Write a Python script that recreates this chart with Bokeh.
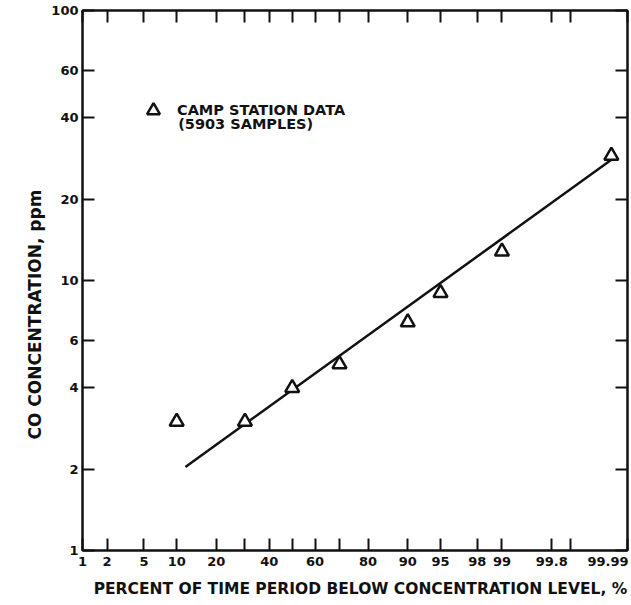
from statistics import NormalDist
from bokeh.plotting import figure
from bokeh.models import (Range1d, FixedTicker, CustomJSTickFormatter, LinearAxis, LogAxis,
                          Label, Legend, LegendItem, ColumnDataSource, Title)
from bokeh.embed import file_html
from bokeh.resources import INLINE

# ---- data ----
pct = [10, 30, 50, 70, 90, 95, 99, 99.98]
ppm = [3.0, 3.0, 4.0, 4.9, 7.0, 9.0, 12.8, 29.0]
fit_pct = [11.8, 99.98]
fit_ppm = [2.04, 28.0]
x_tick_pct = [1, 2, 5, 10, 20, 30, 40, 50, 60, 70, 80, 90, 95, 98, 99, 99.8, 99.9, 99.99]
x_tick_labels = ["1", "2", "5", "10", "20", "", "40", "", "60", "", "80", "90", "95", "98", "99", "99.8", "", ""]
x_last_label = "99.99"
y_ticks = [1, 2, 4, 6, 10, 20, 40, 60, 100]
legend_line1 = "CAMP STATION DATA"
legend_line2 = "(5903 SAMPLES)"
x_title = "PERCENT OF TIME PERIOD BELOW CONCENTRATION LEVEL, %"
y_title = "CO CONCENTRATION, ppm"

nd = NormalDist()
def probit(p):
    return nd.inv_cdf(p / 100.0)

FONT = "DejaVu Sans"
INK = "#111111"

xz = [probit(v) for v in pct]
fit_z = [probit(v) for v in fit_pct]
tick_z = [probit(v) for v in x_tick_pct]
x0, x1 = probit(1), probit(99.99)

p = figure(width=630, height=605, output_backend="svg", toolbar_location=None,
           x_range=Range1d(x0, x1), y_range=Range1d(1, 100),
           y_axis_type="log", x_axis_type="linear",
           min_border_left=82, min_border_right=3, min_border_top=10, min_border_bottom=55)
p.xgrid.visible = False
p.ygrid.visible = False
p.outline_line_color = INK
p.outline_line_width = 2
p.background_fill_color = "white"
p.border_fill_color = "white"

fmt_bottom = CustomJSTickFormatter(args=dict(tz=tick_z, lab=x_tick_labels), code="""
    for (let i = 0; i < tz.length; i++) { if (Math.abs(tz[i] - tick) < 1e-6) return lab[i]; }
    return "";
""")
fmt_empty = CustomJSTickFormatter(code='return "";')

xa = p.xaxis[0]
xa.ticker = FixedTicker(ticks=tick_z)
xa.formatter = fmt_bottom
ya = p.yaxis[0]
ya.ticker = FixedTicker(ticks=y_ticks)

for ax in (xa, ya):
    ax.major_tick_in = 12
    ax.major_tick_out = 0
    ax.minor_tick_in = 0
    ax.minor_tick_out = 0
    ax.major_tick_line_width = 2
    ax.major_tick_line_color = INK
    ax.axis_line_color = INK
    ax.axis_line_width = 2
    ax.major_label_text_font = FONT
    ax.major_label_text_font_style = "bold"
    ax.major_label_text_font_size = "13px"
    ax.major_label_text_color = INK

xa.major_label_standoff = 6
ya.major_label_standoff = 4

top = LinearAxis(ticker=FixedTicker(ticks=tick_z), formatter=fmt_empty)
right = LogAxis(ticker=FixedTicker(ticks=y_ticks), formatter=fmt_empty)
for ax in (top, right):
    ax.major_tick_in = 12
    ax.major_tick_out = 0
    ax.minor_tick_in = 0
    ax.minor_tick_out = 0
    ax.major_tick_line_width = 2
    ax.major_tick_line_color = INK
    ax.axis_line_color = INK
    ax.axis_line_width = 2
    ax.major_label_standoff = 0
    ax.major_label_text_font_size = "1px"
p.add_layout(top, "above")
p.add_layout(right, "right")

# y-axis title, starting above the frame bottom as in the reference
p.add_layout(Title(text=y_title, align="left", offset=111, standoff=8,
                   text_font=FONT, text_font_style="bold", text_font_size="17px",
                   text_color=INK), "left")

# x-axis title (placed in the bottom panel so it does not squeeze the frame)
p.add_layout(Label(x=x0 + 0.51 * (x1 - x0), y=1, y_offset=-38, text=x_title,
                   text_font=FONT, text_font_style="bold", text_font_size="15.5px",
                   text_color=INK, text_align="center", text_baseline="middle"), "below")

# fitted line
p.line(x=fit_z, y=fit_ppm, line_color=INK, line_width=2.5)

# data points
src = ColumnDataSource(dict(x=xz, y=ppm))
r = p.scatter(x="x", y="y", source=src, marker="triangle", size=14,
              fill_color="white", line_color=INK, line_width=2.5)

legend = Legend(items=[LegendItem(label=legend_line1, renderers=[r])],
                location=(55, 424), glyph_width=32, glyph_height=32,
                label_standoff=8, padding=0, margin=0, spacing=0,
                border_line_alpha=0, background_fill_alpha=0,
                label_text_font=FONT, label_text_font_style="bold",
                label_text_font_size="14.5px", label_text_color=INK)
p.add_layout(legend)

p.add_layout(Label(x=x0, y=38.1, x_offset=95.7, text=legend_line2,
                   text_font=FONT, text_font_style="bold", text_font_size="14.5px",
                   text_color=INK, text_align="left", text_baseline="middle"))

# right-most x tick label, right-aligned to the frame edge (outside the frame)
p.add_layout(Label(x=x1, y=1, x_offset=1, y_offset=-6, text=x_last_label,
                   text_font=FONT, text_font_style="bold", text_font_size="13px",
                   text_color=INK, text_align="right", text_baseline="top"), "below")

open("out.html", "w").write(file_html(p, INLINE))
